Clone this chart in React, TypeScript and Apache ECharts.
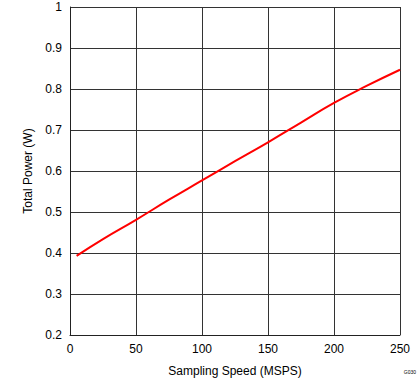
import React, { useEffect, useRef } from "react";
import * as echarts from "echarts";

const speedMSPS = [5, 25, 50, 75, 100, 125, 150, 175, 200, 225, 250];
const totalPowerW = [0.393, 0.434, 0.481, 0.53, 0.577, 0.624, 0.67, 0.718, 0.766, 0.808, 0.847];
const xTitle = "Sampling Speed (MSPS)";
const yTitle = "Total Power (W)";
const figureId = "G030";

export default function App() {
  const ref = useRef<HTMLDivElement>(null);
  useEffect(() => {
    if (!ref.current) return;
    const chart = echarts.init(ref.current, undefined, { renderer: "svg" });
    const font = "Liberation Sans, Arial, sans-serif";
    chart.setOption({
      animation: false,
      backgroundColor: "#fff",
      grid: { left: 70, top: 7, right: 19, bottom: 46, show: false },
      xAxis: {
        type: "value",
        min: 0,
        max: 250,
        interval: 50,
        name: xTitle,
        nameLocation: "middle",
        nameGap: 30,
        nameTextStyle: { color: "#000", fontSize: 12, fontFamily: font },
        axisLine: { show: true, lineStyle: { color: "#222", width: 1 } },
        axisTick: { show: false },
        axisLabel: { color: "#000", fontSize: 12, fontFamily: font, margin: 8 },
        splitLine: { show: true, lineStyle: { color: "#333", width: 1 } },
      },
      yAxis: {
        type: "value",
        min: 0.2,
        max: 1,
        interval: 0.1,
        name: yTitle,
        nameLocation: "middle",
        nameGap: 36,
        nameTextStyle: { color: "#000", fontSize: 12, fontFamily: font },
        axisLine: { show: true, lineStyle: { color: "#222", width: 1 } },
        axisTick: { show: false },
        axisLabel: {
          color: "#000",
          fontSize: 12,
          fontFamily: font,
          margin: 8,
          formatter: (v: number) => String(Math.round(v * 10) / 10),
        },
        splitLine: { show: true, lineStyle: { color: "#333", width: 1 } },
      },
      graphic: [
        {
          type: "text",
          right: 3,
          top: 369,
          style: { text: figureId, fill: "#000", fontSize: 5, fontFamily: font },
        },
      ],
      series: [
        {
          type: "line",
          data: speedMSPS.map((x, i) => [x, totalPowerW[i]]),
          showSymbol: false,
          smooth: true,
          lineStyle: { color: "#ff0000", width: 2 },
        },
      ],
    });
    return () => chart.dispose();
  }, []);
  return (
    <div
      ref={ref}
      style={{ position: "absolute", left: 0, top: 0, width: 419, height: 382 }}
    />
  );
}
